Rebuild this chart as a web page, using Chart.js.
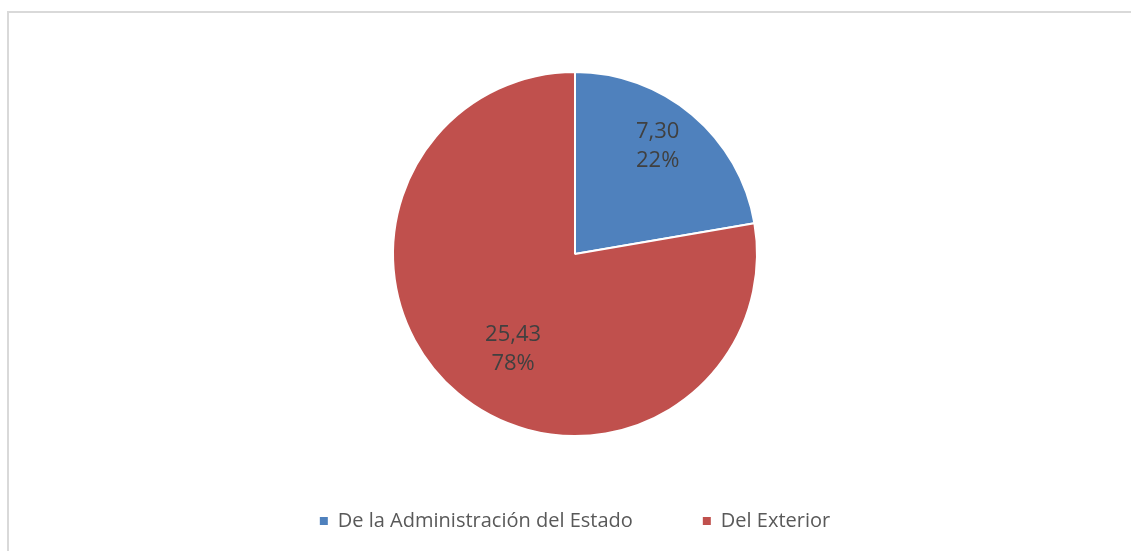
<!DOCTYPE html>
<html>
<head>
<meta charset="utf-8">
<script src="https://cdn.jsdelivr.net/npm/chart.js@4"></script>
<style>
    html, body { margin: 0; padding: 0; background: #fff; overflow: hidden; }
    #frame {
        position: absolute; left: 7px; top: 11px; width: 1140px; height: 560px;
        border-left: 2px solid #d9d9d9; border-top: 2px solid #d9d9d9;
    }
    #wrap { position: absolute; left: 0; top: 0; width: 1131px; height: 551px; }
</style>
</head>
<body>
<div id="frame"></div>
<div id="wrap"><canvas id="pie-chart"></canvas></div>
<script>
const categories = ['De la Administración del Estado', 'Del Exterior'];
const values = [7.30, 25.43];
const percentLabels = ['22%', '78%'];
const colors = ['#4f81bd', '#c0504d'];

// label placement per slice: fraction of radius and angle nudge (radians)
const labelRadius = [0.75, 0.62];
const labelNudge = [-0.05, -0.12];

const sliceLabels = {
    id: 'sliceLabels',
    afterDatasetsDraw(chart) {
        const ctx = chart.ctx;
        const meta = chart.getDatasetMeta(0);
        ctx.save();
        ctx.font = '22px "Open Sans"';
        ctx.fillStyle = '#404040';
        ctx.textAlign = 'center';
        ctx.textBaseline = 'middle';
        meta.data.forEach(function (arc, i) {
            const p = arc.getProps(['x', 'y', 'startAngle', 'endAngle', 'outerRadius'], true);
            const mid = (p.startAngle + p.endAngle) / 2 + labelNudge[i];
            const r = p.outerRadius * labelRadius[i];
            const x = p.x + Math.cos(mid) * r;
            const y = p.y + Math.sin(mid) * r;
            const text = values[i].toFixed(2).replace('.', ',');
            ctx.fillText(text, x, y - 14);
            ctx.fillText(percentLabels[i], x, y + 15);
        });
        ctx.restore();
    }
};

new Chart(document.getElementById('pie-chart'), {
    type: 'pie',
    data: {
        labels: categories,
        datasets: [{
            data: values,
            backgroundColor: colors,
            borderColor: '#ffffff',
            borderWidth: 2,
            radius: 182
        }]
    },
    options: {
        responsive: true,
        maintainAspectRatio: false,
        animation: false,
        layout: { padding: { top: 67, bottom: 10, left: 19, right: 0 } },
        plugins: {
            tooltip: { enabled: false },
            legend: {
                position: 'bottom',
                labels: {
                    boxWidth: 8,
                    boxHeight: 8,
                    padding: 70,
                    color: '#595959',
                    font: { family: '"Open Sans"', size: 20 },
                    generateLabels: function (chart) {
                        const items = Chart.overrides.pie.plugins.legend.labels.generateLabels(chart);
                        items.forEach(function (item) { item.lineWidth = 0; });
                        return items;
                    }
                }
            }
        }
    },
    plugins: [sliceLabels]
});
</script>
</body>
</html>
